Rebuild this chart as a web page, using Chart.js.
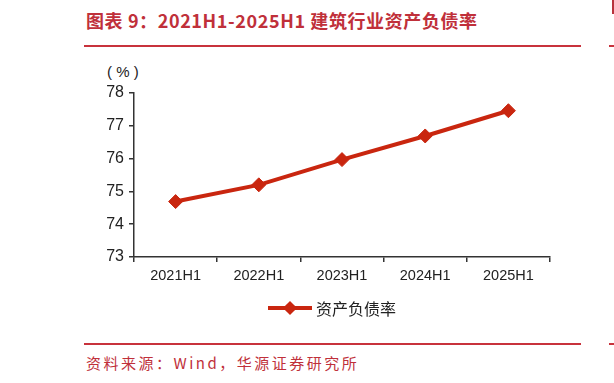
<!DOCTYPE html>
<html>
<head>
<meta charset="utf-8">
<script src="https://cdn.jsdelivr.net/npm/chart.js@4.4.0/dist/chart.umd.min.js"></script>
<style>
  body { margin: 0; background: #fff; }
  #page { position: relative; width: 614px; height: 383px; overflow: hidden; background: #fff; }
  #title { position: absolute; left: 86px; top: 8px; font-family: "Noto Sans CJK SC", sans-serif; font-weight: bold;
           font-size: 18px; letter-spacing: 0.6px; color: #c0303a; white-space: nowrap; line-height: 24px; }
  .redline { position: absolute; height: 2px; background: #c8323c; }
  #source { position: absolute; left: 86px; top: 353px; font-family: "Noto Sans CJK SC", sans-serif;
            font-size: 15px; letter-spacing: 2.5px; color: #c0303a; white-space: nowrap; line-height: 20px; }
  #unit { position: absolute; left: 107px; top: 63px; font-family: "Liberation Sans", Arial, sans-serif;
          font-size: 15px; color: #222; white-space: pre; }
  #chartBox { position: absolute; left: 0; top: 0; width: 614px; height: 300px; }
  #legend { position: absolute; left: 268px; top: 298px; height: 20px; font-family: "Noto Sans CJK SC", sans-serif;
            font-size: 16px; color: #222; line-height: 20px; white-space: nowrap; }
  #legend .ln { position: absolute; left: 0; top: 8px; width: 44px; height: 4px; }
  #legend .dm { position: absolute; left: 17px; top: 5px; width: 10px; height: 10px; transform: rotate(45deg); }
  #legend .tx { position: absolute; left: 48px; top: 0; }
</style>
</head>
<body>
<div id="page">
  <div id="title">图表 9：2021H1-2025H1 建筑行业资产负债率</div>
  <div class="redline" style="left:84px; top:45px; width:497px;"></div>
  <div class="redline" style="left:609px; top:45px; width:5px;"></div>
  <div style="position:absolute; left:612px; top:0; width:2px; height:14px; background:#b8323c;"></div>
  <div id="unit">( % )</div>
  <div id="chartBox"><canvas id="chart"></canvas></div>
  <div id="legend"><div class="ln"></div><div class="dm"></div><div class="tx"></div></div>
  <div class="redline" style="left:84px; top:343px; width:497px;"></div>
  <div class="redline" style="left:609px; top:343px; width:5px;"></div>
  <div id="source">资料来源：Wind，华源证券研究所</div>
</div>
<script>
// 建筑行业资产负债率（%）
const periods = ["2021H1", "2022H1", "2023H1", "2024H1", "2025H1"];
const debtRatio = [74.69, 75.2, 75.97, 76.69, 77.46];
const seriesName = "资产负债率";
const lineColor = "#c9260f";

// legend (HTML)
const lg = document.getElementById("legend");
lg.querySelector(".ln").style.background = lineColor;
lg.querySelector(".dm").style.background = lineColor;
lg.querySelector(".tx").textContent = seriesName;

const axisColor = "#333";
const fontFamily = "'Liberation Sans', Arial, sans-serif";

new Chart(document.getElementById("chart"), {
    type: "line",
    data: {
        labels: periods,
        datasets: [
            {
                label: seriesName,
                data: debtRatio,
                borderColor: lineColor,
                backgroundColor: lineColor,
                borderWidth: 4,
                pointStyle: "rectRot",
                pointRadius: 7,
                pointBorderWidth: 1,
                tension: 0,
                fill: false
            }
        ]
    },
    options: {
        responsive: true,
        maintainAspectRatio: false,
        animation: false,
        layout: { padding: { left: 0, right: 64, top: 93, bottom: 13 } },
        plugins: { legend: { display: false }, tooltip: { enabled: false } },
        scales: {
            x: {
                offset: true,
                grid: { offset: true, drawOnChartArea: false, drawTicks: true, tickLength: 5, color: axisColor, lineWidth: 1.5 },
                border: { display: true, color: axisColor, width: 1.5 },
                ticks: { color: "#222", font: { family: fontFamily, size: 14.5 }, padding: 5, maxRotation: 0 },
                afterFit: function (scale) { scale.height = 30; }
            },
            y: {
                min: 73,
                max: 78,
                grid: { drawOnChartArea: false, drawTicks: true, tickLength: 5, color: axisColor, lineWidth: 1.5 },
                border: { display: true, color: axisColor, width: 1.5 },
                ticks: { stepSize: 1, color: "#222", font: { family: fontFamily, size: 16 }, padding: 5 },
                afterFit: function (scale) { scale.width = 134; }
            }
        }
    }
});
</script>
</body>
</html>
